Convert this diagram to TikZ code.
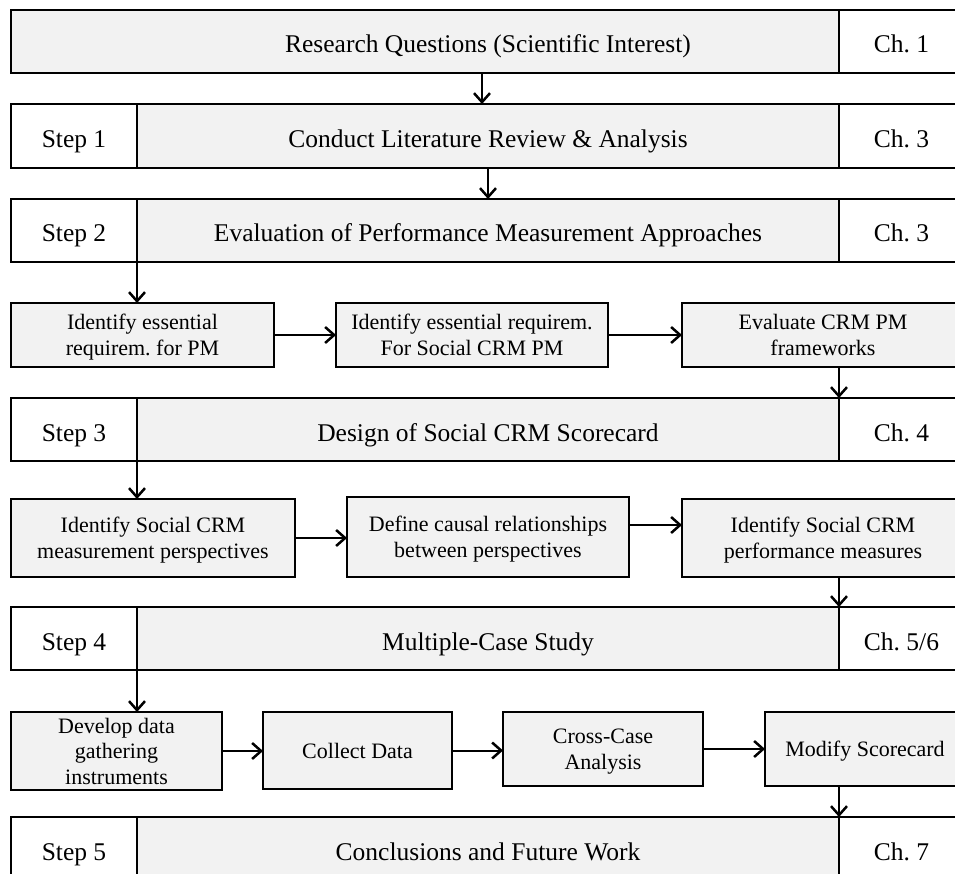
\documentclass[tikz,border=0pt]{standalone}
\usepackage{fontspec}
\setmainfont{Liberation Serif}
\usetikzlibrary{arrows.meta}
\definecolor{boxgrey}{HTML}{F2F2F2}
\frenchspacing
\begin{document}
\begin{tikzpicture}[x=1pt,y=-1pt,
  every node/.style={inner sep=0pt, outer sep=0pt},
  bx/.style={draw=black, line width=1.8pt, rectangle, anchor=north west, align=center},
  greybox/.style={bx, fill=boxgrey},
  whitebox/.style={bx, fill=white},
  big/.style={font=\fontsize{25.5}{30}\selectfont\frenchspacing, text height=23pt, text depth=0pt},
  small/.style={font=\fontsize{22}{25.5}\selectfont\frenchspacing, text depth=-7pt},
  arr/.style={line width=2pt, -{Straight Barb[length=9pt,width=16pt,line width=2.5pt]}}
]
\useasboundingbox (0,0) rectangle (955,874);
\clip (0,0) rectangle (955,874);

% Research questions
\node[greybox, minimum width=828, minimum height=63] (rq) at (11,10) {};
\node[big, anchor=center] (rqt) at (488,41.5) {Research Questions (Scientific Interest)};
\node[whitebox, big, minimum width=125, minimum height=63] (rqc) at (839,10) {Ch. 1};

% Step 1
\node[whitebox, big, minimum width=126, minimum height=64] (s1l) at (11,104) {Step 1};
\node[greybox, big, minimum width=702, minimum height=64] (s1g) at (137,104) {Conduct Literature Review \& Analysis};
\node[whitebox, big, minimum width=125, minimum height=64] (s1c) at (839,104) {Ch. 3};

% Step 2
\node[whitebox, big, minimum width=126, minimum height=63] (s2l) at (11,199) {Step 2};
\node[greybox, big, minimum width=702, minimum height=63] (s2g) at (137,199) {Evaluation of Performance Measurement Approaches};
\node[whitebox, big, minimum width=125, minimum height=63] (s2c) at (839,199) {Ch. 3};

% Row A
\node[greybox, small, minimum width=263, minimum height=64] (a1) at (11,303) {Identify essential\\requirem. for PM};
\node[greybox, small, minimum width=272, minimum height=64] (a2) at (336,303) {Identify essential requirem.\\For Social CRM PM};
\node[greybox, small, minimum width=282, minimum height=64] (a3) at (682,303) {Evaluate CRM PM\\frameworks};

% Step 3
\node[whitebox, big, minimum width=126, minimum height=63] (s3l) at (11,398) {Step 3};
\node[greybox, big, minimum width=702, minimum height=63] (s3g) at (137,398) {Design of Social CRM Scorecard};
\node[whitebox, big, minimum width=125, minimum height=63] (s3c) at (839,398) {Ch. 4};

% Row B
\node[greybox, small, minimum width=284, minimum height=78] (b1) at (11,499) {Identify Social CRM\\measurement perspectives};
\node[greybox, small, minimum width=282, minimum height=80] (b2) at (347,497) {Define causal relationships\\between perspectives};
\node[greybox, small, minimum width=282, minimum height=78] (b3) at (682,499) {Identify Social CRM\\performance measures};

% Step 4
\node[whitebox, big, minimum width=126, minimum height=63] (s4l) at (11,607) {Step 4};
\node[greybox, big, minimum width=702, minimum height=63] (s4g) at (137,607) {Multiple-Case Study};
\node[whitebox, big, minimum width=125, minimum height=63] (s4c) at (839,607) {Ch. 5/6};

% Row C
\node[greybox, small, minimum width=211, minimum height=78] (c1) at (11,712) {Develop data\\gathering\\instruments};
\node[greybox, small, minimum width=189, minimum height=77] (c2) at (263,712) {Collect Data};
\node[greybox, small, minimum width=200, minimum height=74] (c3) at (503,712) {Cross-Case\\Analysis};
\node[greybox, small, minimum width=200, minimum height=74] (c4) at (765,712) {Modify Scorecard};

% Step 5
\node[whitebox, big, minimum width=126, minimum height=64] (s5l) at (11,817) {Step 5};
\node[greybox, big, minimum width=702, minimum height=64] (s5g) at (137,817) {Conclusions and Future Work};
\node[whitebox, big, minimum width=125, minimum height=64] (s5c) at (839,817) {Ch. 7};

% Arrows
\draw[arr] ([xshift=-6pt]rq.south -| s1g.north) -- ([xshift=-6pt]s1g.north);
\draw[arr] (s1g.south) -- (s2g.north);
\draw[arr] (s2l.south east) -- (a1.north -| s2l.south east);
\draw[arr] (a1.east) -- (a2.west);
\draw[arr] (a2.east) -- (a3.west);
\draw[arr] (a3.south -| s3c.north west) -- (s3c.north west);
\draw[arr] (s3l.south east) -- (b1.north -| s3l.south east);
\draw[arr] (b1.east) -- (b1.east -| b2.west);
\draw[arr] ([yshift=12pt]b2.east) -- ([yshift=12pt]b2.east -| b3.west);
\draw[arr] (b3.south -| s4c.north west) -- (s4c.north west);
\draw[arr] (s4l.south east) -- (c1.north -| s4l.south east);
\draw[arr] (c1.east) -- (c1.east -| c2.west);
\draw[arr] (c2.east) -- (c2.east -| c3.west);
\draw[arr] (c3.east) -- (c3.east -| c4.west);
\draw[arr] (c4.south -| s5c.north west) -- (s5c.north west);
\end{tikzpicture}
\end{document}
